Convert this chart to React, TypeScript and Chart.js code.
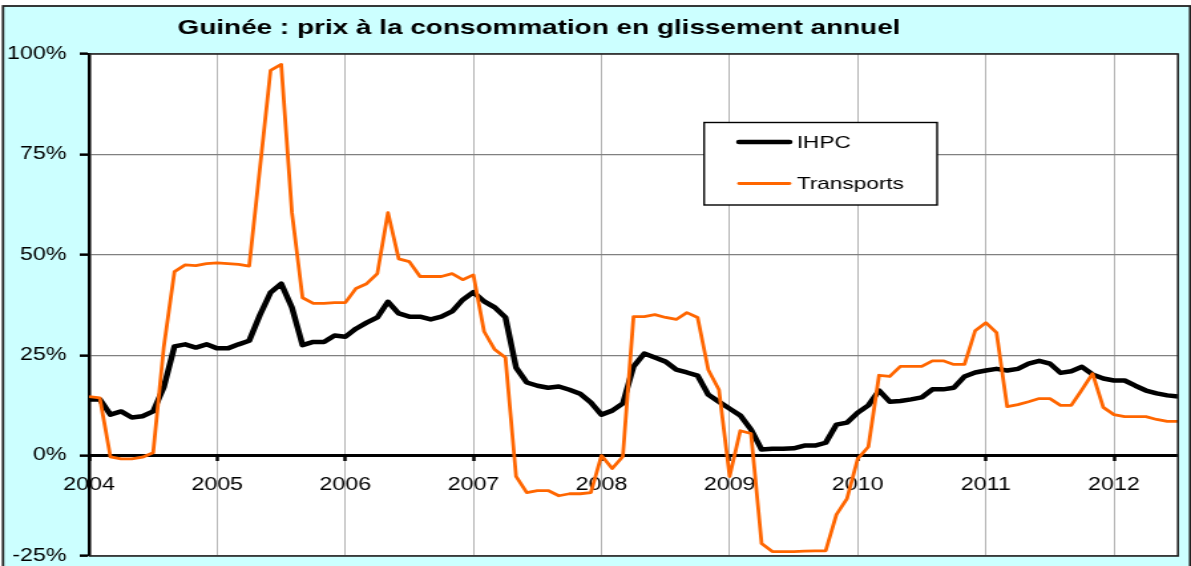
import React, { useEffect, useRef } from "react";
import { Chart, registerables } from "chart.js";

Chart.register(...registerables);

const TITLE = "Guinée : prix à la consommation en glissement annuel";
const yearLabels = ["2004", "2005", "2006", "2007", "2008", "2009", "2010", "2011", "2012"];
const yTicks = [-25, 0, 25, 50, 75, 100];
const seriesNames = ["IHPC", "Transports"];

// monthly values, Jan 2004 .. Jul 2012 (%)
const ihpc = [
  14.0, 14.0, 10.2, 11.0, 9.5, 9.8, 11.0, 17.0, 27.2, 27.7, 26.9, 27.7,
  26.7, 26.7, 27.7, 28.6, 35.0, 40.6, 42.8, 36.9, 27.5, 28.3, 28.3, 29.9,
  29.6, 31.6, 33.1, 34.4, 38.3, 35.4, 34.6, 34.6, 33.9, 34.6, 35.9, 38.8,
  40.7, 38.4, 36.9, 34.4, 21.9, 18.2, 17.4, 16.9, 17.2, 16.4, 15.4, 13.2,
  10.2, 11.2, 13.0, 22.2, 25.4, 24.4, 23.4, 21.4, 20.7, 19.9, 15.2, 13.4,
  11.7, 10.0, 6.5, 1.5, 1.7, 1.7, 1.8, 2.5, 2.5, 3.2, 7.7, 8.2,
  10.7, 12.5, 16.2, 13.4, 13.6, 14.0, 14.5, 16.5, 16.5, 16.9, 19.7, 20.7,
  21.2, 21.6, 21.2, 21.6, 22.9, 23.6, 22.9, 20.6, 21.0, 22.1, 20.2, 19.2,
  18.7, 18.7, 17.4, 16.2, 15.5, 15.0, 14.7,
];

const transports = [
  14.7, 14.4, -0.3, -0.8, -0.8, -0.4, 0.7, 27.0, 45.8, 47.5, 47.3, 47.8,
  48.0, 47.8, 47.6, 47.2, 71.5, 95.9, 97.4, 60.5, 39.3, 37.9, 37.9, 38.1,
  38.1, 41.6, 42.8, 45.3, 60.5, 49.0, 48.3, 44.6, 44.6, 44.6, 45.3, 43.8,
  45.0, 30.9, 26.4, 24.4, -5.2, -9.2, -8.7, -8.7, -10.0, -9.5, -9.5, -9.2,
  0.0, -3.2, -0.2, 34.6, 34.6, 35.1, 34.4, 33.9, 35.6, 34.4, 21.4, 16.4,
  -5.2, 6.2, 5.5, -21.9, -23.9, -23.9, -23.9, -23.8, -23.7, -23.7, -14.7, -10.7,
  -0.8, 2.2, 20.0, 19.7, 22.2, 22.2, 22.2, 23.6, 23.6, 22.7, 22.7, 31.1,
  33.1, 30.6, 12.2, 12.7, 13.4, 14.2, 14.2, 12.5, 12.5, 16.4, 20.4, 12.0,
  10.2, 9.7, 9.7, 9.7, 9.0, 8.5, 8.5,
];

const W = 896;
const H = 566;
const SX = 1191 / W;
const FONT = '"Liberation Sans", Arial, sans-serif';
const ORANGE = "#FF6600";

const toPoints = (arr: number[]) => arr.map((v, i) => ({ x: i, y: v }));

const decor = {
  id: "decor",
  beforeDraw(chart: any) {
    const { ctx, chartArea: a } = chart;
    ctx.save();
    ctx.fillStyle = "#ffffff";
    ctx.fillRect(0, 0, W, H);
    ctx.fillStyle = "#CCFFFF";
    ctx.fillRect(2.3, 6, 893, H);
    ctx.strokeStyle = "#222";
    ctx.lineWidth = 1.8;
    ctx.strokeRect(2.3, 6, 893, H + 20);
    ctx.fillStyle = "#ffffff";
    ctx.fillRect(a.left, a.top, a.right - a.left, a.bottom - a.top);
    ctx.fillStyle = "#000";
    ctx.font = `bold 21px ${FONT}`;
    ctx.textAlign = "center";
    ctx.textBaseline = "alphabetic";
    ctx.fillText(TITLE, 405.5, 33.5);
    ctx.restore();
  },
  afterDraw(chart: any) {
    const { ctx, chartArea: a } = chart;
    ctx.save();
    // plot frame (top, right, bottom)
    ctx.strokeStyle = "#222";
    ctx.lineWidth = 1.6;
    ctx.beginPath();
    ctx.moveTo(a.left, a.top);
    ctx.lineTo(a.right, a.top);
    ctx.lineTo(a.right, a.bottom);
    ctx.lineTo(a.left, a.bottom);
    ctx.stroke();
    // legend
    const lx = 529.7, ly = 122.5, lw = 175.3, lh = 82.5;
    ctx.fillStyle = "#fff";
    ctx.fillRect(lx, ly, lw, lh);
    ctx.strokeStyle = "#000";
    ctx.lineWidth = 1.4;
    ctx.strokeRect(lx, ly, lw, lh);
    const items = [
      { name: seriesNames[0], color: "#000", width: 4.5, y: 142, base: 148.3 },
      { name: seriesNames[1], color: ORANGE, width: 2.8, y: 183.5, base: 189.3 },
    ];
    items.forEach((it) => {
      ctx.strokeStyle = it.color;
      ctx.lineWidth = it.width;
      ctx.lineCap = "round";
      ctx.beginPath();
      ctx.moveTo(556, it.y);
      ctx.lineTo(594, it.y);
      ctx.stroke();
      ctx.fillStyle = "#000";
      ctx.font = `17px ${FONT}`;
      ctx.textAlign = "left";
      ctx.textBaseline = "alphabetic";
      ctx.fillText(it.name, 599.4, it.base);
    });
    ctx.restore();
  },
};

export default function App() {
  const ref = useRef<HTMLCanvasElement>(null);
  useEffect(() => {
    document.body.style.overflow = "hidden";
    const chart = new Chart(ref.current as HTMLCanvasElement, {
      type: "line",
      data: {
        datasets: [
          {
            label: seriesNames[1],
            data: toPoints(transports),
            borderColor: ORANGE,
            backgroundColor: ORANGE,
            borderWidth: 2.8,
            pointRadius: 0,
            tension: 0,
            borderJoinStyle: "round",
            order: 0,
          },
          {
            label: seriesNames[0],
            data: toPoints(ihpc),
            borderColor: "#000",
            backgroundColor: "#000",
            borderWidth: 4.5,
            pointRadius: 0,
            tension: 0,
            borderJoinStyle: "round",
            order: 1,
          },
        ],
      },
      options: {
        animation: false,
        responsive: false,
        devicePixelRatio: 1,
        layout: { padding: { left: 0, right: 9.8, top: 54, bottom: 10 } },
        plugins: {
          legend: { display: false },
          title: { display: false },
          tooltip: { enabled: false },
        },
        scales: {
          x: {
            type: "linear",
            min: 0,
            max: 102,
            position: { y: 0 } as any,
            afterBuildTicks: (s: any) => {
              s.ticks = yearLabels.map((_, i) => ({ value: i * 12 }));
            },
            afterFit: (s: any) => {
              s.paddingLeft = 0;
              s.paddingRight = 0;
            },
            ticks: {
              autoSkip: false,
              maxRotation: 0,
              padding: 15,
              color: "#000",
              font: { family: FONT, size: 17.5 },
              callback: (v: any) => yearLabels[Math.round(Number(v) / 12)] ?? "",
            },
            grid: {
              color: "#b4b4b4",
              lineWidth: 1,
              drawTicks: true,
              tickColor: "#000",
              tickLength: 4,
              tickWidth: 2.5,
            },
            border: { color: "#000", width: 3 },
          },
          y: {
            type: "linear",
            min: -25,
            max: 100,
            afterBuildTicks: (s: any) => {
              s.ticks = yTicks.map((v) => ({ value: v }));
            },
            afterFit: (s: any) => {
              s.width = 67;
              s.paddingTop = 0;
              s.paddingBottom = 0;
            },
            ticks: {
              padding: 10,
              color: "#000",
              font: { family: FONT, size: 17.5 },
              callback: (v: any) => `${v}%`,
            },
            grid: {
              color: "#808080",
              lineWidth: 1.3,
              drawTicks: true,
              tickColor: "#000",
              tickLength: 7,
              tickWidth: 2.5,
            },
            border: { color: "#000", width: 2.5 },
          },
        },
      },
      plugins: [decor],
    } as any);
    return () => chart.destroy();
  }, []);

  return (
    <div
      style={{
        position: "absolute",
        left: 0,
        top: 0,
        width: W,
        height: H,
        transform: `scaleX(${SX})`,
        transformOrigin: "0 0",
      }}
    >
      <canvas ref={ref} width={W} height={H} style={{ display: "block", width: W, height: H }} />
    </div>
  );
}
